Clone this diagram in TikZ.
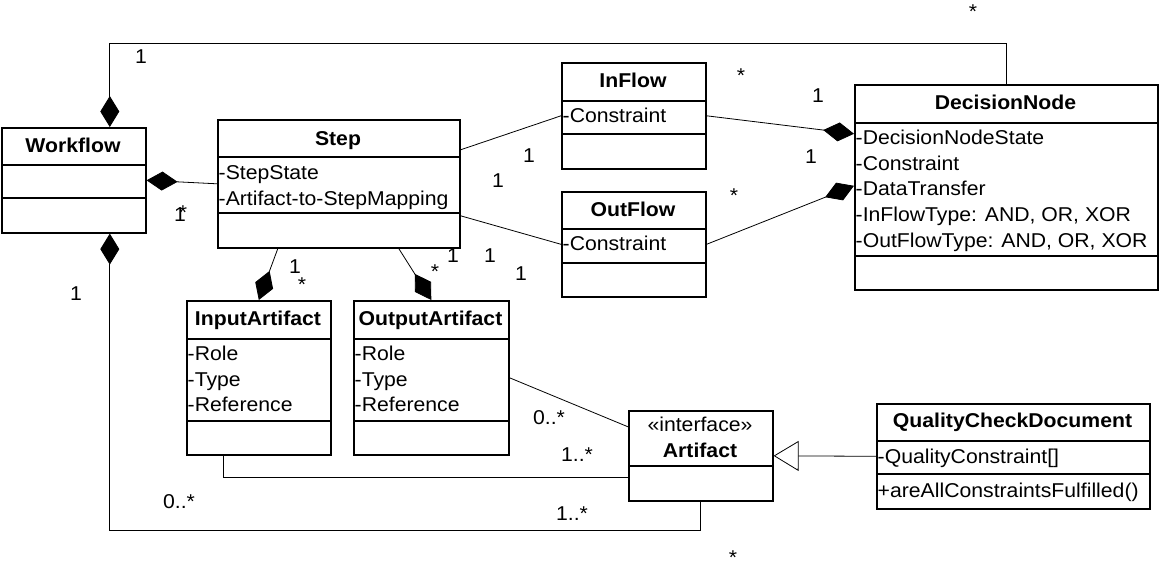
\documentclass[tikz,border=0pt]{standalone}
\usepackage{fontspec}
\setmainfont{Liberation Sans}[FakeStretch=1.06]
\usetikzlibrary{arrows.meta}
\tikzset{
  box/.style={draw, line width=1.6pt, inner sep=0pt, anchor=north west},
  div/.style={line width=1.6pt},
  ctitle/.style={font=\fontsize{20}{25}\selectfont\bfseries, anchor=base, inner sep=0pt},
  attr/.style={anchor=base west, inner sep=0pt, xshift=1.5pt},
  lbl/.style={inner sep=0pt},
  conn/.style={line width=0.8pt},
  comp/.style={arrows={Diamond[length=31pt,width=19pt]-}},
  compend/.style={arrows={-Diamond[length=31pt,width=19pt]}},
  gen/.style={arrows={-Triangle[open,length=25pt,width=30pt]}}
}
\begin{document}
\begin{tikzpicture}[x=1pt,y=-1pt,font=\fontsize{20}{25}\selectfont]
\useasboundingbox (0,0) rectangle (1159,578);

% Workflow
\node[box, minimum width=144pt, minimum height=105pt] (wf) at (1,127) {};
\draw[div] (wf.west |- 0,165) -- (wf.east |- 0,165);
\draw[div] (wf.west |- 0,198) -- (wf.east |- 0,198);
\node[ctitle] (wft) at (73,152) {Workflow};

% Step
\node[box, minimum width=242pt, minimum height=128pt] (step) at (217,119) {};
\draw[div] (step.west |- 0,157) -- (step.east |- 0,157);
\draw[div] (step.west |- 0,213) -- (step.east |- 0,213);
\node[ctitle] (stept) at (338,145) {Step};
\node[attr] (stepa1) at (217,179) {-StepState};
\node[attr] (stepa2) at (217,205) {-Artifact-to-StepMapping};

% InFlow
\node[box, minimum width=144pt, minimum height=106pt] (inf) at (561,62) {};
\draw[div] (inf.west |- 0,101) -- (inf.east |- 0,101);
\draw[div] (inf.west |- 0,134) -- (inf.east |- 0,134);
\node[ctitle] (inft) at (633,87) {InFlow};
\node[attr] (infa1) at (561,122) {-Constraint};

% OutFlow
\node[box, minimum width=144pt, minimum height=105pt] (outf) at (561,191) {};
\draw[div] (outf.west |- 0,229) -- (outf.east |- 0,229);
\draw[div] (outf.west |- 0,263) -- (outf.east |- 0,263);
\node[ctitle] (outft) at (633,216) {OutFlow};
\node[attr] (outfa1) at (561,250) {-Constraint};

% DecisionNode
\node[box, minimum width=303pt, minimum height=205pt] (dn) at (854,84) {};
\draw[div] (dn.west |- 0,123) -- (dn.east |- 0,123);
\draw[div] (dn.west |- 0,256) -- (dn.east |- 0,256);
\node[ctitle] (dnt) at (1005.5,109) {DecisionNode};
\node[attr] (dna1) at (854,144) {-DecisionNodeState};
\node[attr] (dna2) at (854,170) {-Constraint};
\node[attr] (dna3) at (854,195) {-DataTransfer};
\node[attr] (dna4) at (854,221) {-InFlowType: AND, OR, XOR};
\node[attr] (dna5) at (854,247) {-OutFlowType: AND, OR, XOR};

% InputArtifact
\node[box, minimum width=144pt, minimum height=154pt] (ia) at (186,300) {};
\draw[div] (ia.west |- 0,339) -- (ia.east |- 0,339);
\draw[div] (ia.west |- 0,421) -- (ia.east |- 0,421);
\node[ctitle] (iat) at (258,325) {InputArtifact};
\node[attr] (iaa1) at (186,360) {-Role};
\node[attr] (iaa2) at (186,386) {-Type};
\node[attr] (iaa3) at (186,411) {-Reference};

% OutputArtifact
\node[box, minimum width=155pt, minimum height=154pt] (oa) at (353,300) {};
\draw[div] (oa.west |- 0,339) -- (oa.east |- 0,339);
\draw[div] (oa.west |- 0,421) -- (oa.east |- 0,421);
\node[ctitle] (oat) at (430.5,325) {OutputArtifact};
\node[attr] (oaa1) at (353,360) {-Role};
\node[attr] (oaa2) at (353,386) {-Type};
\node[attr] (oaa3) at (353,411) {-Reference};

% Artifact
\node[box, minimum width=144pt, minimum height=90pt] (art) at (628,410) {};
\draw[line width=2.4pt] (art.west |- 0,466) -- (art.east |- 0,466);
\node[anchor=base, inner sep=0pt] (arts) at (700,431) {«interface»};
\node[ctitle] (artt) at (700,457) {Artifact};

% QualityCheckDocument
\node[box, minimum width=273pt, minimum height=105pt] (qcd) at (876,403) {};
\draw[div] (qcd.west |- 0,441) -- (qcd.east |- 0,441);
\draw[div] (qcd.west |- 0,474) -- (qcd.east |- 0,474);
\node[ctitle] (qcdt) at (1012.5,427) {QualityCheckDocument};
\node[attr] (qcda1) at (876,463) {-QualityConstraint[]};
\node[attr] (qcda2) at (876,497) {+areAllConstraintsFulfilled()};

% Connectors
\coordinate (wfT) at ([xshift=36pt]wf.north);
\draw[conn,comp] (wfT) -- (wfT |- 0,43) -- (dn.north |- 0,43) -- (dn.north);
\draw[conn,comp] (wf.east) -- (step.west);
\coordinate (wfB) at ([xshift=36pt]wf.south);
\draw[conn,comp] (wfB) -- (wfB |- 0,530) -- (art.south |- 0,530) -- (art.south);
\draw[conn] ([yshift=34pt]step.east) -- (inf.west);
\draw[conn] ([yshift=-32pt]step.east) -- (outf.west);
\draw[conn,compend] (inf.east) -- ([yshift=53.5pt]dn.west);
\draw[conn,compend] (outf.east) -- ([yshift=1.5pt]dn.west);
\draw[conn,compend] ([xshift=-61pt]step.south) -- (ia.north);
\draw[conn,compend] ([xshift=60pt]step.south) -- (oa.north);
\draw[conn] (oa.east) -- ([yshift=29pt]art.west);
\coordinate (iaB) at ([xshift=-35pt]ia.south);
\draw[conn] (iaB) -- (iaB |- 0,477) -- (art.west |- 0,477);
\draw[conn,gen] (qcd.west) -- (art.east);

% Multiplicity labels
\node[lbl] (l1) at (141,57) {1};
\node[lbl] (l2) at (973,12) {*};
\node[lbl] (l3) at (180,215) {1};
\node[lbl] (l4) at (183,213) {*};
\node[lbl] (l5) at (741,76) {*};
\node[lbl] (l6) at (818,96) {1};
\node[lbl] (l7) at (529,156) {1};
\node[lbl] (l8) at (498,181) {1};
\node[lbl] (l9) at (811,157) {1};
\node[lbl] (l10) at (734,196) {*};
\node[lbl] (l11) at (453,256) {1};
\node[lbl] (l12) at (490,256) {1};
\node[lbl] (l13) at (521,274) {1};
\node[lbl] (l14) at (435,272) {*};
\node[lbl] (l15) at (295,267) {1};
\node[lbl] (l16) at (302,285) {*};
\node[lbl] (l17) at (76,294) {1};
\node[lbl] (l18) at (549,418) {0..*};
\node[lbl] (l19) at (577,455) {1..*};
\node[lbl] (l20) at (179,502) {0..*};
\node[lbl] (l21) at (572,514) {1..*};
\node[lbl] (l22) at (733,558) {*};
\end{tikzpicture}
\end{document}
